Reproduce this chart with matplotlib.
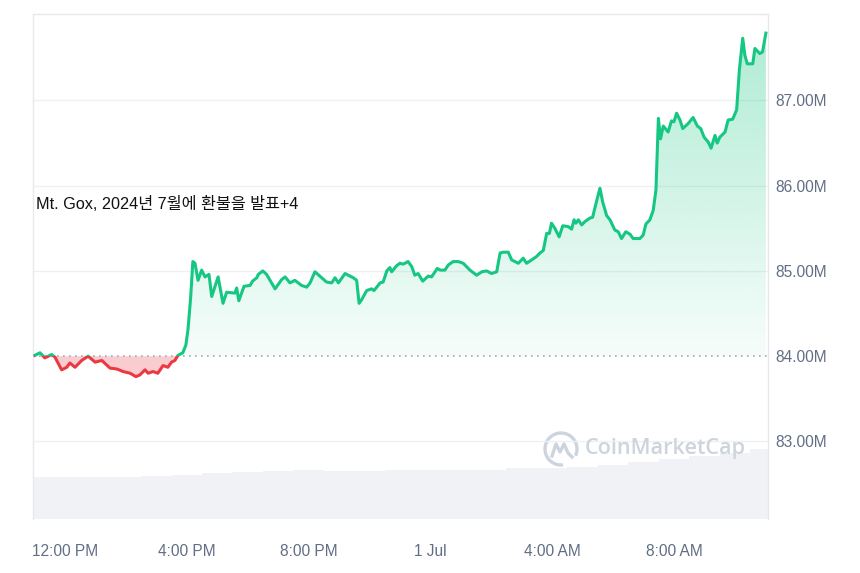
import numpy as np
import matplotlib
matplotlib.use("Agg")
import matplotlib.pyplot as plt
from matplotlib.patches import Rectangle, Arc
from matplotlib.path import Path

# hours after 12:00 PM (30 Jun) and price in millions
hours = [-0.99, -0.82, -0.66, -0.44, -0.33, -0.11, 0.06, 0.16, 0.33, 0.55,
         0.76, 0.99, 1.21, 1.48, 1.70, 1.91, 2.14, 2.33, 2.46, 2.63,
         2.73, 2.89, 3.05, 3.22, 3.38, 3.50, 3.61, 3.71, 3.87, 3.97,
         4.04, 4.13, 4.20, 4.27, 4.37, 4.49, 4.60, 4.73, 4.82, 5.03,
         5.19, 5.31, 5.58, 5.64, 5.71, 5.88, 6.08, 6.16, 6.30, 6.35,
         6.50, 6.62, 6.90, 7.12, 7.23, 7.39, 7.55, 7.77, 7.94, 8.05,
         8.21, 8.37, 8.59, 8.76, 8.87, 8.98, 9.20, 9.30, 9.47, 9.58,
         9.66, 9.74, 9.91, 10.07, 10.15, 10.35, 10.45, 10.57, 10.67, 10.73,
         10.89, 11.00, 11.11, 11.27, 11.39, 11.49, 11.60, 11.75, 11.93, 12.04,
         12.23, 12.32, 12.48, 12.59, 12.75, 12.92, 13.08, 13.30, 13.52, 13.69,
         13.85, 14.01, 14.18, 14.29, 14.39, 14.56, 14.67, 14.78, 14.89, 15.05,
         15.16, 15.33, 15.49, 15.60, 15.71, 15.82, 15.91, 15.98, 16.09, 16.23,
         16.35, 16.53, 16.64, 16.72, 16.78, 16.86, 16.97, 17.08, 17.24, 17.33,
         17.44, 17.57, 17.66, 17.79, 17.90, 18.06, 18.17, 18.28, 18.42, 18.56,
         18.66, 18.88, 18.99, 19.08, 19.21, 19.32, 19.41, 19.49, 19.56, 19.65,
         19.81, 19.92, 20.00, 20.09, 20.20, 20.29, 20.47, 20.63, 20.77, 20.88,
         20.99, 21.13, 21.22, 21.35, 21.42, 21.51, 21.68, 21.78, 21.93, 22.06,
         22.15, 22.26, 22.33, 22.41, 22.59, 22.66, 22.82, 22.91, 23.02]
price = [84.01, 84.04, 83.98, 84.02, 83.99, 83.84, 83.87, 83.92, 83.87, 83.95,
         84.00, 83.93, 83.95, 83.86, 83.85, 83.82, 83.80, 83.76, 83.78, 83.84,
         83.80, 83.82, 83.80, 83.89, 83.87, 83.93, 83.95, 84.01, 84.04, 84.13,
         84.31, 84.70, 85.11, 85.09, 84.89, 85.01, 84.93, 84.96, 84.70, 84.93,
         84.62, 84.75, 84.74, 84.80, 84.65, 84.82, 84.83, 84.88, 84.92, 84.96,
         85.00, 84.96, 84.79, 84.90, 84.93, 84.86, 84.89, 84.83, 84.81, 84.86,
         84.99, 84.94, 84.87, 84.86, 84.92, 84.86, 84.97, 84.95, 84.92, 84.89,
         84.62, 84.66, 84.77, 84.79, 84.77, 84.86, 84.87, 85.00, 85.04, 84.99,
         85.06, 85.09, 85.08, 85.11, 85.05, 84.95, 84.97, 84.88, 84.94, 84.93,
         85.03, 85.01, 85.01, 85.07, 85.11, 85.11, 85.09, 85.01, 84.95, 84.99,
         85.00, 84.97, 84.99, 85.21, 85.22, 85.22, 85.13, 85.11, 85.09, 85.15,
         85.09, 85.13, 85.17, 85.21, 85.24, 85.44, 85.44, 85.56, 85.50, 85.40,
         85.53, 85.52, 85.49, 85.60, 85.56, 85.60, 85.54, 85.58, 85.62, 85.63,
         85.79, 85.97, 85.81, 85.65, 85.60, 85.48, 85.46, 85.38, 85.46, 85.43,
         85.38, 85.38, 85.42, 85.55, 85.60, 85.71, 85.95, 86.79, 86.55, 86.70,
         86.63, 86.76, 86.75, 86.85, 86.77, 86.67, 86.73, 86.80, 86.70, 86.67,
         86.57, 86.51, 86.44, 86.59, 86.50, 86.57, 86.63, 86.77, 86.78, 86.89,
         87.36, 87.73, 87.53, 87.43, 87.43, 87.61, 87.55, 87.57, 87.79]
open_price = 84.0

# volume bars (relative units), one per hour
vol_hours = list(range(-1, 24))
volume = [42, 42, 42, 42, 42.5, 44, 46, 47, 48, 48.5, 47.5, 47.5, 48.5,
          49, 49, 49, 50.5, 50.7, 51.5, 54, 57, 59.5, 62.5, 66, 69.5]

x_ticks = [0, 4, 8, 12, 16, 20]
x_labels = ["12:00 PM", "4:00 PM", "8:00 PM", "1 Jul", "4:00 AM", "8:00 AM"]
y_ticks = [83, 84, 85, 86, 87]

note = "Mt. Gox, 2024년 7월에 환불을 발표+4"

green = "#16c784"
red = "#ea3943"
grey_txt = "#616e85"
frame_col = "#e6e9ee"

plt.rcParams['font.family'] = ['Liberation Sans', 'Noto Sans CJK KR', 'DejaVu Sans']

t = np.array(hours)
p = np.array(price)
xmin, xmax = -1.05, 23.09
ymin, ymax = 82.09, 88.02

fig = plt.figure(figsize=(8.6, 5.73), dpi=100)
rect = [33 / 860, 54 / 573, 735 / 860, 505.5 / 573]

# volume underneath
axv = fig.add_axes(rect, zorder=0)
axv.bar(vol_hours, volume, width=1.0, color="#f0f2f5", linewidth=0)
axv.set_xlim(xmin, xmax)
axv.set_ylim(0, 505)
axv.axis("off")

ax = fig.add_axes(rect, zorder=1)
ax.patch.set_alpha(0)
ax.set_xlim(xmin, xmax)
ax.set_ylim(ymin, ymax)

# gradient fill above open price
poly = ax.fill_between(t, p, open_price, where=p >= open_price, interpolate=True,
                       facecolor="none", edgecolor="none")
clip = Path.make_compound_path(*poly.get_paths())
grad = np.zeros((256, 1, 4))
grad[:, 0, :3] = matplotlib.colors.to_rgb(green)
grad[:, 0, 3] = np.linspace(0.04, 0.36, 256)
im = ax.imshow(grad, extent=[xmin, xmax, open_price, ymax], origin="lower",
               aspect="auto", zorder=1)
im.set_clip_path(clip, ax.transData)

# red fill below open price
ax.fill_between(t, p, open_price, where=p <= open_price, interpolate=True,
                color=red, alpha=0.25, linewidth=0, zorder=1)

# grid + dotted baseline
for yv in y_ticks:
    if yv != open_price:
        ax.axhline(yv, color="#eef0f3", lw=1, zorder=0.5)
ax.axhline(open_price, color="#a3acb9", lw=1.2, ls=(0, (1, 2.6)), zorder=2)

# price line, coloured by side of open price
up = Rectangle((xmin - 5, open_price), 50, 20, transform=ax.transData)
dn = Rectangle((xmin - 5, open_price - 20), 50, 20, transform=ax.transData)
l1, = ax.plot(t, p, color=green, lw=2.2, solid_joinstyle="round", zorder=3)
l1.set_clip_path(up)
l2, = ax.plot(t, p, color=red, lw=2.2, solid_joinstyle="round", zorder=3)
l2.set_clip_path(dn)

# axes styling
ax.yaxis.tick_right()
ax.set_yticks(y_ticks)
ax.set_yticklabels([f"{v:.2f}M" for v in y_ticks])
ax.set_xticks(x_ticks)
ax.set_xticklabels(x_labels)
ax.tick_params(axis="y", length=0, pad=5, labelsize=11.2, labelcolor=grey_txt)
ax.tick_params(axis="x", length=0, pad=18, labelsize=11.2, labelcolor=grey_txt)
for s in ["top", "left", "right"]:
    ax.spines[s].set_color(frame_col)
    ax.spines[s].set_linewidth(1)
ax.spines["bottom"].set_visible(False)

ax.text(0.004, 0.624, note, transform=ax.transAxes, fontsize=11.7,
        color="#111111", va="center", ha="left", zorder=5)

# watermark
wm = "#cdd4dd"
ax.text(0.751, 0.139, "CoinMarketCap", transform=ax.transAxes, fontsize=15.6,
        family="Open Sans", fontweight="semibold", color=wm, va="center",
        ha="left", zorder=4)
cx, cy = 561 / 860, 1 - 449 / 573
fig.add_artist(Arc((cx, cy), 32 / 860, 32 / 573, theta1=-35, theta2=275,
                   transform=fig.transFigure, color=wm, lw=2.4))
mx = [-9, -5, -1, 3, 7, 11]
my = [-7, 5, -3, 5, -4, -8]
fig.add_artist(plt.Line2D([cx + a / 860 for a in mx], [cy + b / 573 for b in my],
                          transform=fig.transFigure, color=wm, lw=2.4,
                          solid_joinstyle="round"))

fig.savefig("out.png", dpi=100)
